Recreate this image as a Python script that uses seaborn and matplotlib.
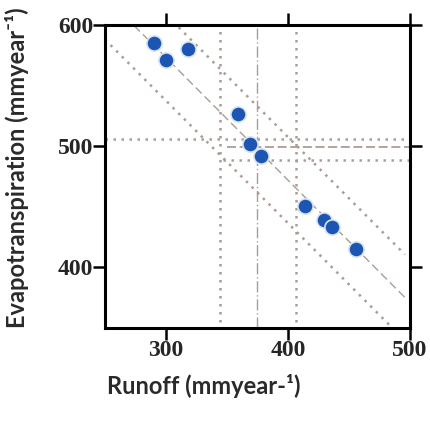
import numpy as np
import pandas as pd
import seaborn as sns
import matplotlib
matplotlib.use("Agg")
import matplotlib.pyplot as plt

# ---- data ----
runoff = [290, 300, 318, 359, 369, 378, 414, 430, 436, 456]
evapo = [585, 571, 580, 527, 502, 492, 451, 439, 433, 415]

fit_slope = -1.01
fit_intercept = 876.2
band_halfwidth = 35.5
fit_xrange = [250, 496]

mean_runoff = 375
ci_runoff = [344, 407]
mean_evapo = 499
ci_evapo = [488.5, 506]

x_ticks = [300, 400, 500]
y_ticks = [400, 500, 600]
x_limits = [250, 500]
y_limits = [350, 600]

sns.set_style("white")
plt.rcParams['font.family'] = ['Lato', 'DejaVu Sans']

df = pd.DataFrame({"runoff": runoff, "evapo": evapo})

fig = plt.figure(figsize=(4.3, 4.25), dpi=100)
ax = fig.add_axes([0.244, 0.228, 0.709, 0.713])

line_col = "#ab9d96"

# regression line and prediction band
fx = np.array(fit_xrange, dtype=float)
fy = fit_intercept + fit_slope * fx
ax.plot(fx, fy, color=line_col, lw=1.0, ls=(0, (6, 3)), zorder=1)
ax.plot(fx, fy + band_halfwidth, color=line_col, lw=1.8, ls=(0, (1, 2.2)), zorder=1)
ax.plot(fx, fy - band_halfwidth, color=line_col, lw=1.8, ls=(0, (1, 2.2)), zorder=1)

# mean lines and confidence intervals
ax.axvline(mean_runoff, color=line_col, lw=1.0, ls=(0, (8, 2, 1, 2)), zorder=1)
for v in ci_runoff:
    ax.plot([v, v], [355, 595], color=line_col, lw=1.8, ls=(0, (1, 2.2)), zorder=1)
ax.plot([x_limits[0], x_limits[1]], [ci_evapo[1]] * 2, color=line_col, lw=1.8,
        ls=(0, (1, 2.2)), zorder=1)
ax.plot([350, x_limits[1]], [mean_evapo] * 2, color=line_col, lw=1.3,
        ls=(0, (5, 2)), zorder=1)
ax.plot([347, x_limits[1]], [ci_evapo[0]] * 2, color=line_col, lw=1.8,
        ls=(0, (1, 2.2)), zorder=1)

sns.scatterplot(data=df, x="runoff", y="evapo", ax=ax, s=120, color="#1c55b2",
                edgecolor="#d8e4f4", linewidth=1.2, zorder=3, legend=False)

ax.set_xlim(x_limits)
ax.set_ylim(y_limits)
ax.set_xticks(x_ticks)
ax.set_yticks(y_ticks)

for sp in ax.spines.values():
    sp.set_visible(True)
    sp.set_color("black")
    sp.set_linewidth(2.2)

ax.tick_params(axis="both", which="major", direction="out", length=8.5, width=1.8,
               color="black", pad=0, top=True, right=True, bottom=True, left=True,
               labeltop=False, labelright=False)
for lab in ax.get_xticklabels() + ax.get_yticklabels():
    lab.set_fontfamily("Liberation Serif")
    lab.set_fontweight("bold")
    lab.set_fontsize(17)

ax.set_xlabel("Runoff (mmyear-¹)", fontsize=17, fontweight="bold", color="#2a2a2a")
ax.set_ylabel("Evapotranspiration (mmyear⁻¹)", fontsize=17, fontweight="bold", color="#2a2a2a")
ax.xaxis.set_label_coords(0.323, -0.15)
ax.yaxis.set_label_coords(-0.25, 0.531)

fig.savefig("out.png", dpi=100)
